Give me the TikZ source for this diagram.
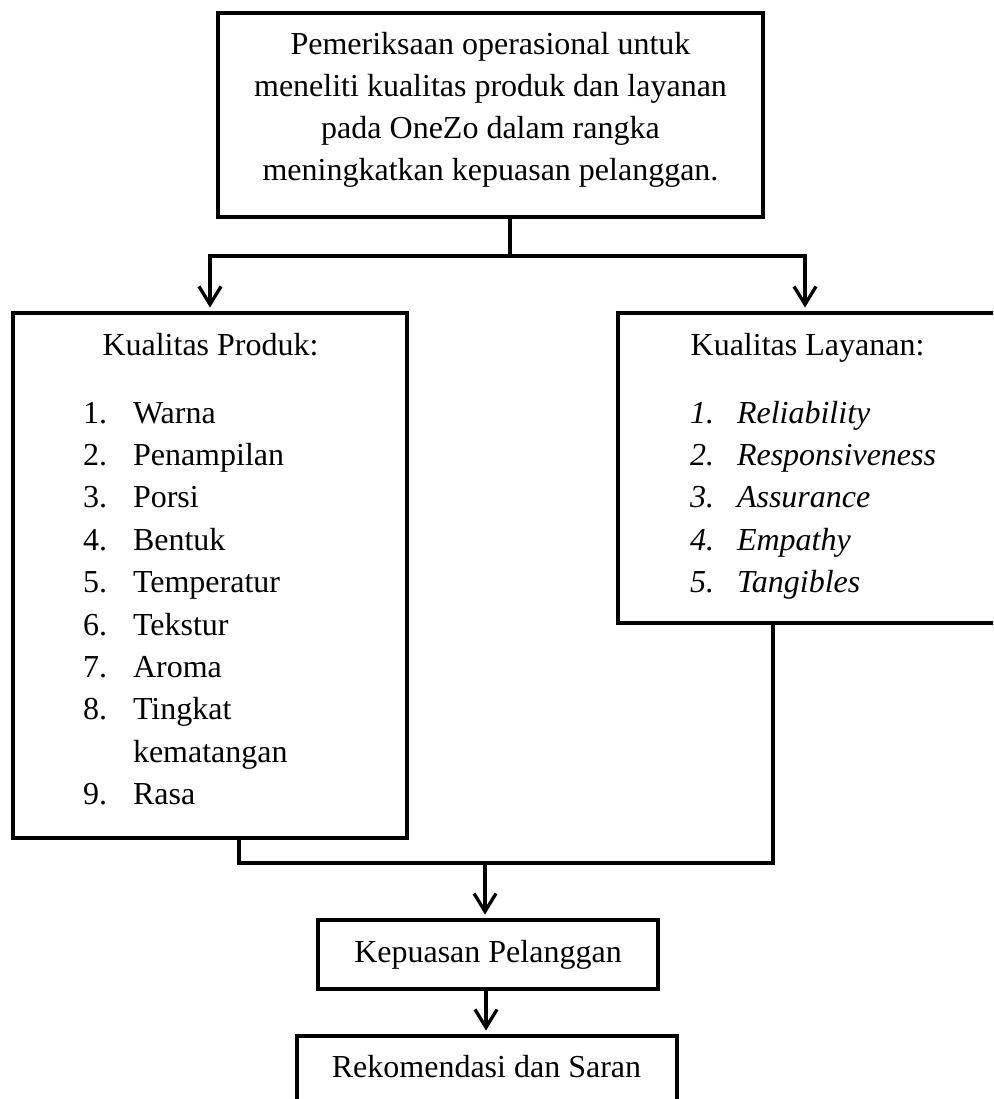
\documentclass[tikz,border=0pt]{standalone}
\usepackage{fontspec}
\setmainfont{Liberation Serif}
\usetikzlibrary{arrows.meta}
\begin{document}
\begin{tikzpicture}[x=1pt,y=-1pt,
  box/.style={draw, line width=4.8pt, inner sep=0pt},
  conn/.style={line width=3.3pt},
  arr/.style={-{Straight Barb[length=18pt,width=22pt]}, shorten >=3pt},
  txt/.style={inner sep=0pt, outer sep=0pt, font=\fontsize{32}{42}\selectfont}]
\useasboundingbox (0,0) rectangle (993,1099);
\clip (0,0) rectangle (993,1099);
% boxes
\node[box, minimum width=545pt, minimum height=204pt] (top) at (490.5,115) {};
\node[box, minimum width=394pt, minimum height=525pt] (left) at (210,575.5) {};
\node[box, minimum width=382pt, minimum height=310pt] (right) at (809,468) {};
\node[box, minimum width=340pt, minimum height=69pt] (mid) at (488,954.5) {};
\node[box, minimum width=380pt, minimum height=94pt] (bot) at (487,1083) {};
% top text
\node[txt, anchor=base] (t1) at (490.5,55) {Pemeriksaan operasional untuk};
\node[txt, anchor=base] (t2) at (490.5,97) {meneliti kualitas produk dan layanan};
\node[txt, anchor=base] (t3) at (490.5,139) {pada OneZo dalam rangka};
\node[txt, anchor=base] (t4) at (490.5,181) {meningkatkan kepuasan pelanggan.};
% left list
\node[txt, anchor=base] (lt) at (210.5,355) {Kualitas Produk:};
\node[txt, anchor=base west] (ln1) at (83,423) {1.};
\node[txt, anchor=base west] (li1) at (133,423) {Warna};
\node[txt, anchor=base west] (ln2) at (83,465.4) {2.};
\node[txt, anchor=base west] (li2) at (133,465.4) {Penampilan};
\node[txt, anchor=base west] (ln3) at (83,507.8) {3.};
\node[txt, anchor=base west] (li3) at (133,507.8) {Porsi};
\node[txt, anchor=base west] (ln4) at (83,550.2) {4.};
\node[txt, anchor=base west] (li4) at (133,550.2) {Bentuk};
\node[txt, anchor=base west] (ln5) at (83,592.6) {5.};
\node[txt, anchor=base west] (li5) at (133,592.6) {Temperatur};
\node[txt, anchor=base west] (ln6) at (83,635) {6.};
\node[txt, anchor=base west] (li6) at (133,635) {Tekstur};
\node[txt, anchor=base west] (ln7) at (83,677.4) {7.};
\node[txt, anchor=base west] (li7) at (133,677.4) {Aroma};
\node[txt, anchor=base west] (ln8) at (83,719.8) {8.};
\node[txt, anchor=base west] (li8) at (133,719.8) {Tingkat};
\node[txt, anchor=base west] (li8b) at (133,762.2) {kematangan};
\node[txt, anchor=base west] (ln9) at (83,804.6) {9.};
\node[txt, anchor=base west] (li9) at (133,804.6) {Rasa};
% right list
\node[txt, anchor=base] (rt) at (807.5,355) {Kualitas Layanan:};
\node[txt, anchor=base west] (rn1) at (690,423) {\itshape 1.};
\node[txt, anchor=base west] (ri1) at (737,423) {\itshape Reliability};
\node[txt, anchor=base west] (rn2) at (690,465.4) {\itshape 2.};
\node[txt, anchor=base west] (ri2) at (737,465.4) {\itshape Responsiveness};
\node[txt, anchor=base west] (rn3) at (690,507.8) {\itshape 3.};
\node[txt, anchor=base west] (ri3) at (737,507.8) {\itshape Assurance};
\node[txt, anchor=base west] (rn4) at (690,550.2) {\itshape 4.};
\node[txt, anchor=base west] (ri4) at (737,550.2) {\itshape Empathy};
\node[txt, anchor=base west] (rn5) at (690,592.6) {\itshape 5.};
\node[txt, anchor=base west] (ri5) at (737,592.6) {\itshape Tangibles};
% lower texts
\node[txt, anchor=base] (mt) at (488,962) {Kepuasan Pelanggan};
\node[txt, anchor=base] (bt) at (486.5,1077) {Rekomendasi dan Saran};
% connectors
\coordinate (jc) at (510,256);
\coordinate (jr) at (805,256);
\coordinate (bl) at (239,863);
\coordinate (br) at (773,863);
\coordinate (jb) at (485,863);
\coordinate (ja) at (486,990);
\draw[conn] (top.south -| jc) -- (jc);
\draw[conn,arr] (jc) -| (left.north);
\draw[conn,arr] (jc) -| (right.north -| jr);
\draw[conn] (left.south -| bl) -- (bl) -- (br) -- (right.south -| br);
\draw[conn,arr] (jb) -- (mid.north -| jb);
\draw[conn,arr] (mid.south -| ja) -- (bot.north -| ja);
\end{tikzpicture}
\end{document}
